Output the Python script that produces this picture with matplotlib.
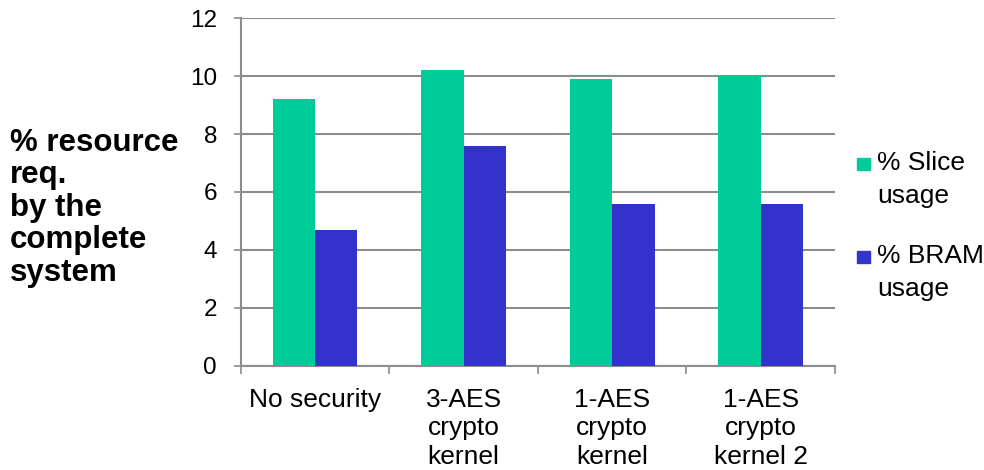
import matplotlib.pyplot as plt
from matplotlib.patches import Rectangle
import numpy as np

categories = ['No security', '3-AES\ncrypto\nkernel', '1-AES\ncrypto\nkernel', '1-AES\ncrypto\nkernel 2']
slice_usage = [9.2, 10.2, 9.9, 10.0]
bram_usage = [4.7, 7.6, 5.6, 5.6]
series_labels = ['% Slice\nusage', '% BRAM\nusage']
series_colors = ['#00CC99', '#3333CC']

plt.rcParams['font.family'] = ['Liberation Sans', 'DejaVu Sans']

W, H = 984, 470
fig = plt.figure(figsize=(W / 100, H / 100), dpi=100)
ax = fig.add_axes([240.7 / W, 1 - 365.7 / H, (835 - 240.7) / W, (365.7 - 18.3) / H])

x = np.arange(len(categories))
width = 1 / 3.5  # gap width 150%
ax.bar(x - width / 2, slice_usage, width, color=series_colors[0], zorder=3)
ax.bar(x + width / 2, bram_usage, width, color=series_colors[1], zorder=3)

ax.set_xlim(-0.5, len(categories) - 0.5)
ax.set_ylim(0, 12)
ax.set_yticks(range(0, 13, 2))
ax.yaxis.grid(True, color='#8c8c8c', linewidth=1.5, zorder=0)
ax.tick_params(axis='y', labelsize=17.5, length=5, color='#8c8c8c', width=1.2, pad=12)

# category labels sit between the boundary ticks
ax.set_xticks(np.arange(len(categories) + 1) - 0.5)
ax.set_xticklabels([])
ax.set_xticks(x, minor=True)
ax.set_xticklabels(categories, minor=True, fontsize=19, linespacing=1.24, va='top')
ax.tick_params(axis='x', which='major', length=6, color='#8c8c8c', width=1.2)
ax.tick_params(axis='x', which='minor', length=0, pad=16)

for side in ['top', 'right']:
    ax.spines[side].set_visible(False)
for side in ['left', 'bottom']:
    ax.spines[side].set_color('#8c8c8c')
    ax.spines[side].set_linewidth(1.5)

# multi-line baseline alignment refers to the last line
fig.text(10 / W, 1 - 281 / H, '% resource\nreq.\nby the\ncomplete\nsystem', fontsize=22.5,
         fontweight='bold', ha='left', va='baseline', linespacing=1.11)

# legend: square keys aligned with the first line of each label
for label, color, base in zip(series_labels, series_colors, [170, 263]):
    fig.add_artist(Rectangle((857 / W, 1 - base / H), 13 / W, 12 / H,
                             transform=fig.transFigure, color=color))
    fig.text(877 / W, 1 - (base + 33) / H, label, fontsize=19, ha='left', va='baseline',
             linespacing=1.45)

fig.savefig('out.png', dpi=100)
